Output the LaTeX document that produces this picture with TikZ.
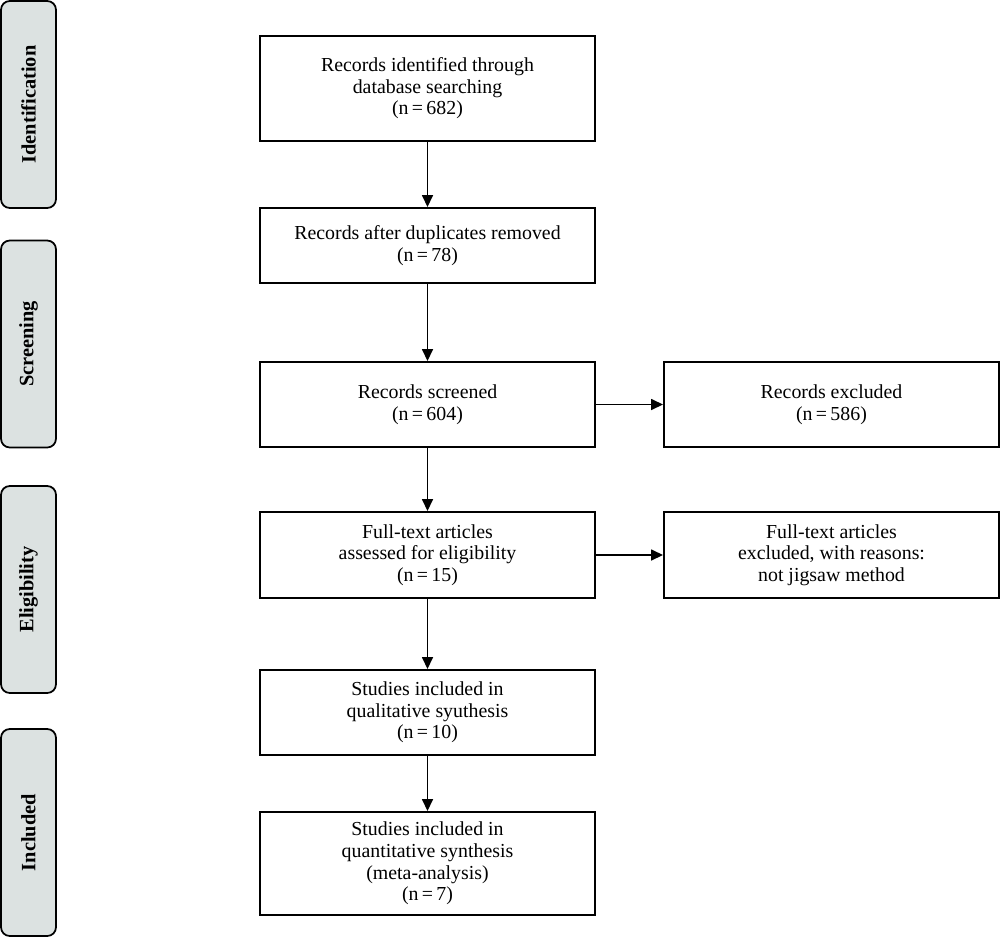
\documentclass[tikz,border=0pt]{standalone}
\usepackage{fontspec}
\setmainfont{Liberation Serif}
\usetikzlibrary{arrows.meta}
\definecolor{phasegray}{HTML}{DCE2E1}
\begin{document}
\begin{tikzpicture}[
    box/.style={rectangle, draw, line width=1.1pt, minimum width=6.7cm, align=center, inner sep=2pt, font=\fontsize{11.3}{12.3}\selectfont},
    phase/.style={rectangle, draw, line width=1pt, rounded corners=5pt, fill=phasegray, minimum width=4.14cm, minimum height=1.1cm, rotate=90, font=\fontsize{11.6}{12}\selectfont\bfseries},
    arr/.style={line width=0.9pt, -{Triangle[length=2.4mm, width=2.2mm]}}]
    \useasboundingbox (0,0) rectangle (20,-18.76);

    % Fases
    \node[phase] (ident) at (0.57, -2.09) {Identification};
    \node[phase] (screen) at (0.57, -6.88) {Screening};
    \node[phase] (elig) at (0.57, -11.79) {Eligibility};
    \node[phase] (incl) at (0.57, -16.65) {Included};

    % Caixas
    \node[box, minimum height=2.1cm] (found) at (8.55, -1.77) {Records identified through\\database searching\\(n\,=\,682)};
    \node[box, minimum height=1.5cm] (dedup) at (8.55, -4.91) {Records after duplicates removed\\(n\,=\,78)};
    \node[box, minimum height=1.7cm] (screened) at (8.55, -8.09) {Records screened\\(n\,=\,604)};
    \node[box, minimum height=1.7cm] (excluded) at (16.63, -8.09) {Records excluded\\(n\,=\,586)};
    \node[box, minimum height=1.72cm] (fulltext) at (8.55, -11.1) {Full-text articles\\assessed for eligibility\\(n\,=\,15)};
    \node[box, minimum height=1.72cm] (ftexcl) at (16.63, -11.1) {Full-text articles\\excluded, with reasons:\\not jigsaw method};
    \node[box, minimum height=1.7cm] (qual) at (8.55, -14.25) {Studies included in\\qualitative syuthesis\\(n\,=\,10)};
    \node[box, minimum height=2.06cm] (quant) at (8.55, -17.27) {Studies included in\\quantitative synthesis\\(meta-analysis)\\(n\,=\,7)};

    % Setas
    \draw[arr] (found) -- (dedup);
    \draw[arr] (dedup) -- (screened);
    \draw[arr] (screened) -- (excluded);
    \draw[arr] (screened) -- (fulltext);
    \draw[arr] (fulltext) -- (ftexcl);
    \draw[arr] (fulltext) -- (qual);
    \draw[arr] (qual) -- (quant);
\end{tikzpicture}
\end{document}
